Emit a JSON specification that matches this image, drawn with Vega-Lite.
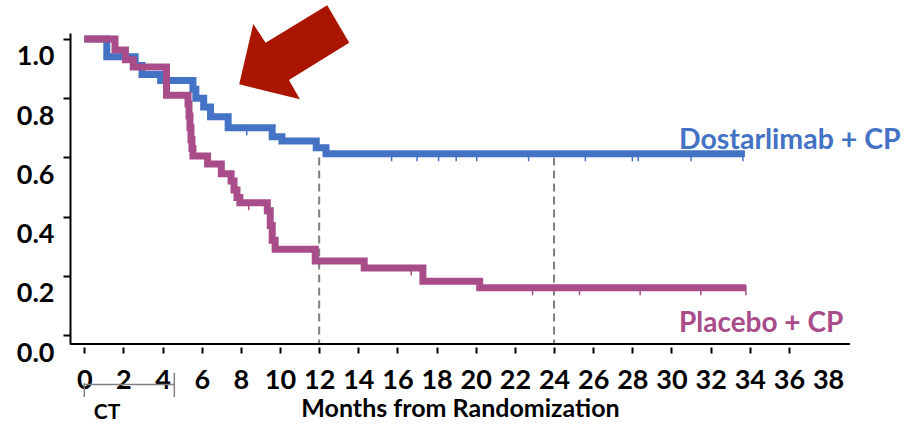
{
  "$schema": "https://vega.github.io/schema/vega-lite/v6.json",
  "autosize": {"type": "none"},
  "width": 780,
  "height": 311,
  "padding": {"left": 70, "top": 33, "right": 60, "bottom": 81},
  "background": "white",
  "view": {"stroke": null},
  "config": {"font": "Lato"},
  "datasets": {
    "km": [
      {"arm": "Dostarlimab + CP", "t": 0, "s": 1.0},
      {"arm": "Dostarlimab + CP", "t": 1.15, "s": 0.94},
      {"arm": "Dostarlimab + CP", "t": 2.6, "s": 0.91},
      {"arm": "Dostarlimab + CP", "t": 2.95, "s": 0.88},
      {"arm": "Dostarlimab + CP", "t": 3.9, "s": 0.86},
      {"arm": "Dostarlimab + CP", "t": 5.55, "s": 0.83},
      {"arm": "Dostarlimab + CP", "t": 5.7, "s": 0.8},
      {"arm": "Dostarlimab + CP", "t": 6.1, "s": 0.77},
      {"arm": "Dostarlimab + CP", "t": 6.45, "s": 0.737},
      {"arm": "Dostarlimab + CP", "t": 7.35, "s": 0.7},
      {"arm": "Dostarlimab + CP", "t": 9.6, "s": 0.67},
      {"arm": "Dostarlimab + CP", "t": 10.1, "s": 0.655},
      {"arm": "Dostarlimab + CP", "t": 11.85, "s": 0.633},
      {"arm": "Dostarlimab + CP", "t": 12.35, "s": 0.6125},
      {"arm": "Dostarlimab + CP", "t": 33.75, "s": 0.6125},
      {"arm": "Placebo + CP", "t": 0, "s": 1.0},
      {"arm": "Placebo + CP", "t": 1.57, "s": 0.963},
      {"arm": "Placebo + CP", "t": 2.1, "s": 0.93},
      {"arm": "Placebo + CP", "t": 2.5, "s": 0.905},
      {"arm": "Placebo + CP", "t": 4.2, "s": 0.81},
      {"arm": "Placebo + CP", "t": 5.3, "s": 0.78},
      {"arm": "Placebo + CP", "t": 5.35, "s": 0.74},
      {"arm": "Placebo + CP", "t": 5.4, "s": 0.7},
      {"arm": "Placebo + CP", "t": 5.45, "s": 0.66},
      {"arm": "Placebo + CP", "t": 5.5, "s": 0.63},
      {"arm": "Placebo + CP", "t": 5.55, "s": 0.605},
      {"arm": "Placebo + CP", "t": 6.3, "s": 0.578},
      {"arm": "Placebo + CP", "t": 7.0, "s": 0.545},
      {"arm": "Placebo + CP", "t": 7.5, "s": 0.52},
      {"arm": "Placebo + CP", "t": 7.65, "s": 0.49},
      {"arm": "Placebo + CP", "t": 7.8, "s": 0.465},
      {"arm": "Placebo + CP", "t": 7.95, "s": 0.447},
      {"arm": "Placebo + CP", "t": 9.35, "s": 0.42},
      {"arm": "Placebo + CP", "t": 9.5, "s": 0.37},
      {"arm": "Placebo + CP", "t": 9.6, "s": 0.32},
      {"arm": "Placebo + CP", "t": 9.75, "s": 0.29},
      {"arm": "Placebo + CP", "t": 11.8, "s": 0.25},
      {"arm": "Placebo + CP", "t": 14.3, "s": 0.227},
      {"arm": "Placebo + CP", "t": 17.3, "s": 0.182},
      {"arm": "Placebo + CP", "t": 20.2, "s": 0.16},
      {"arm": "Placebo + CP", "t": 33.8, "s": 0.16}
    ],
    "cens": [
      {"arm": "Dostarlimab + CP", "t": 8.3, "s": 0.7},
      {"arm": "Dostarlimab + CP", "t": 15.7, "s": 0.6125},
      {"arm": "Dostarlimab + CP", "t": 17.0, "s": 0.6125},
      {"arm": "Dostarlimab + CP", "t": 18.1, "s": 0.6125},
      {"arm": "Dostarlimab + CP", "t": 19.0, "s": 0.6125},
      {"arm": "Dostarlimab + CP", "t": 20.05, "s": 0.6125},
      {"arm": "Dostarlimab + CP", "t": 22.7, "s": 0.6125},
      {"arm": "Dostarlimab + CP", "t": 25.6, "s": 0.6125},
      {"arm": "Dostarlimab + CP", "t": 28.0, "s": 0.6125},
      {"arm": "Dostarlimab + CP", "t": 28.3, "s": 0.6125},
      {"arm": "Dostarlimab + CP", "t": 31.0, "s": 0.6125},
      {"arm": "Dostarlimab + CP", "t": 33.65, "s": 0.6125},
      {"arm": "Placebo + CP", "t": 8.4, "s": 0.447},
      {"arm": "Placebo + CP", "t": 16.7, "s": 0.227},
      {"arm": "Placebo + CP", "t": 22.9, "s": 0.16},
      {"arm": "Placebo + CP", "t": 25.3, "s": 0.16},
      {"arm": "Placebo + CP", "t": 28.4, "s": 0.16},
      {"arm": "Placebo + CP", "t": 31.5, "s": 0.16},
      {"arm": "Placebo + CP", "t": 33.8, "s": 0.16}
    ],
    "landmarks": [
      {"month": 12},
      {"month": 24}
    ],
    "one": [{"note": "annotation"}]
  },
  "layer": [
    {
      "data": {"name": "landmarks"},
      "mark": {"type": "rule", "color": "#7f7f7f", "strokeWidth": 2, "strokeDash": [8, 5]},
      "encoding": {
        "x": {"field": "month", "type": "quantitative", "scale": {"domain": [-0.73, 39.12], "nice": false, "zero": false},
          "axis": {
            "values": [0, 2, 4, 6, 8, 10, 12, 14, 16, 18, 20, 22, 24, 26, 28, 30, 32, 34, 36, 38],
            "offset": 3, "domain": false, "grid": false,
            "tickSize": 6, "tickWidth": 2, "tickColor": "black",
            "tickOpacity": {"condition": {"test": "datum.value == 38", "value": 0}, "value": 1},
            "labelFont": "Lato", "labelFontWeight": "bold", "labelFontSize": 27, "labelColor": "black",
            "labelPadding": 14, "labelFlush": false, "labelOverlap": false,
            "title": "Months from Randomization", "titleFont": "Lato", "titleFontWeight": "bold",
            "titleFontSize": 25, "titleColor": "black", "titlePadding": 3
          }},
        "y": {"datum": 0.6, "type": "quantitative", "scale": {"domain": [-0.03, 1.02], "nice": false, "zero": false},
          "axis": {
            "values": [0, 0.2, 0.4, 0.6, 0.8, 1.0], "format": ".1f",
            "domain": true, "domainColor": "black", "domainWidth": 2, "grid": false,
            "tickSize": 7, "tickWidth": 2, "tickColor": "black",
            "labelFont": "Lato", "labelFontWeight": "bold", "labelFontSize": 27, "labelColor": "black",
            "labelPadding": 9, "labelOffset": 18, "title": null
          }},
        "y2": {"datum": -0.03}
      }
    },
    {
      "data": {"name": "km"},
      "mark": {"type": "line", "interpolate": "step-after", "strokeWidth": 7, "strokeCap": "butt", "strokeJoin": "miter"},
      "encoding": {
        "x": {"field": "t", "type": "quantitative"},
        "y": {"field": "s", "type": "quantitative"},
        "color": {"field": "arm", "type": "nominal", "scale": {"domain": ["Dostarlimab + CP", "Placebo + CP"], "range": ["#4472C4", "#A84C8A"]}, "legend": null},
        "order": {"field": "t"}
      }
    },
    {
      "data": {"name": "cens"},
      "mark": {"type": "tick", "orient": "vertical", "size": 10, "thickness": 1.5, "yOffset": 2.5, "opacity": 1},
      "encoding": {
        "x": {"field": "t", "type": "quantitative"},
        "y": {"field": "s", "type": "quantitative"},
        "color": {"field": "arm", "type": "nominal", "legend": null}
      }
    },
    {
      "data": {"name": "one"},
      "mark": {"type": "point", "filled": true, "fill": "#AA1500", "strokeWidth": 0, "opacity": 1, "size": 14400,
        "shape": "M -0.912 0.538 L -0.678 -0.467 L -0.472 -0.155 L 0.555 -0.778 L 0.922 -0.155 L -0.083 0.467 L 0.1 0.788 Z"},
      "encoding": {"x": {"datum": 10.71}, "y": {"datum": 0.956}}
    },
    {
      "data": {"name": "one"},
      "mark": {"type": "text", "text": "Dostarlimab + CP", "align": "left", "baseline": "alphabetic", "font": "Lato", "fontWeight": "bold", "fontSize": 28.5, "color": "#4472C4"},
      "encoding": {"x": {"datum": 30.38}, "y": {"datum": 0.628}}
    },
    {
      "data": {"name": "one"},
      "mark": {"type": "text", "text": "Placebo + CP", "align": "left", "baseline": "alphabetic", "font": "Lato", "fontWeight": "bold", "fontSize": 28, "color": "#A84C8A"},
      "encoding": {"x": {"datum": 30.38}, "y": {"datum": 0.01}}
    },
    {
      "data": {"name": "one"},
      "mark": {"type": "rule", "color": "black", "strokeWidth": 2},
      "encoding": {"x": {"datum": -0.73}, "x2": {"datum": 39.12}, "y": {"datum": -0.03}}
    },
    {
      "data": {"name": "one"},
      "mark": {"type": "rule", "color": "#808080", "strokeWidth": 1.5},
      "encoding": {"x": {"datum": 0}, "x2": {"datum": 4.6}, "y": {"datum": -0.1666}}
    },
    {
      "data": {"name": "one"},
      "mark": {"type": "rule", "color": "#808080", "strokeWidth": 1.5},
      "encoding": {"x": {"datum": 0}, "y": {"datum": -0.162}, "y2": {"datum": -0.209}}
    },
    {
      "data": {"name": "one"},
      "mark": {"type": "rule", "color": "#808080", "strokeWidth": 1.5},
      "encoding": {"x": {"datum": 4.6}, "y": {"datum": -0.128}, "y2": {"datum": -0.209}}
    },
    {
      "data": {"name": "one"},
      "mark": {"type": "text", "text": "CT", "align": "center", "baseline": "middle", "font": "Lato", "fontWeight": "bold", "fontSize": 21, "color": "black"},
      "encoding": {"x": {"datum": 1.16}, "y": {"datum": -0.2635}}
    }
  ]
}
